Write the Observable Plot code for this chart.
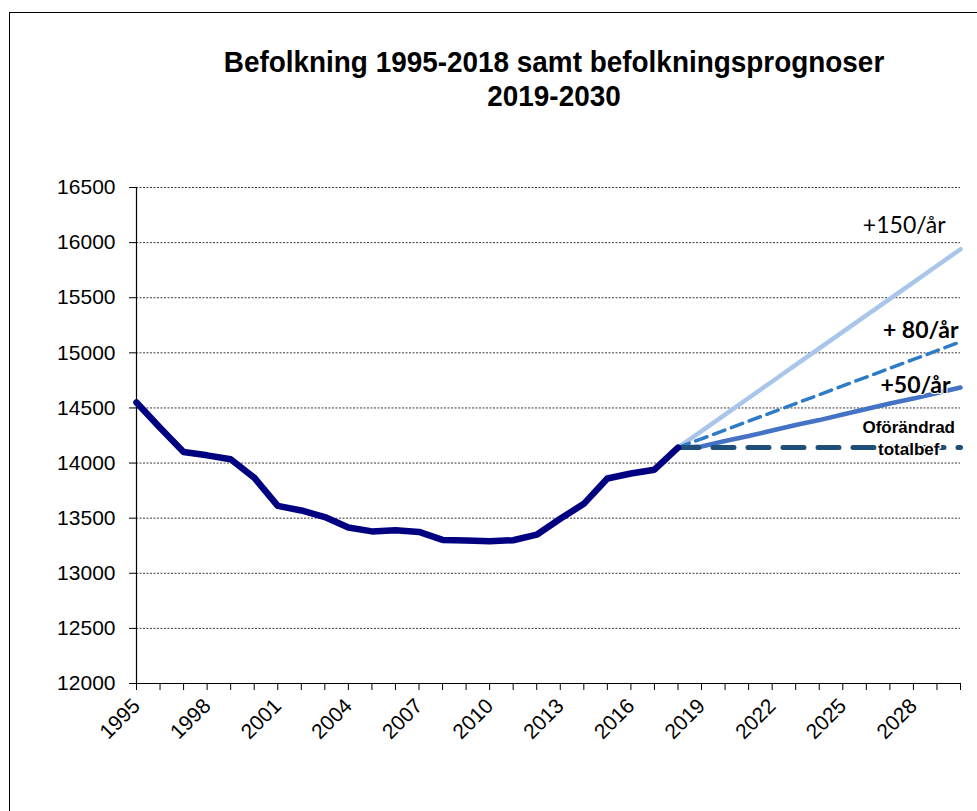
<!DOCTYPE html>
<html>
<head>
<meta charset="utf-8">
<script src="https://cdn.jsdelivr.net/npm/d3@7"></script>
<script src="https://cdn.jsdelivr.net/npm/@observablehq/plot@0.6"></script>
<style>
  body { margin: 0; background: #fff; }
  #wrap { position: relative; width: 977px; height: 811px; overflow: hidden; background: #fff; }
  #frame { position: absolute; left: 9px; top: 12px; width: 1000px; height: 900px; border: 1.5px solid #000; box-sizing: border-box; }
  #title { position: relative; height: 140px; }
  #title div { position: absolute; left: 554px; transform: translateX(-50%) scaleX(0.93); white-space: nowrap;
    font-family: "Liberation Sans Narrow", "Arial Narrow", "Liberation Sans", Arial, sans-serif;
    font-weight: bold; font-size: 30px; color: #000; text-align: center; line-height: 34px; top: 45px; }
  #chart { position: relative; }
</style>
</head>
<body>
<div id="wrap">
  <div id="frame"></div>
  <div id="title"><div>Befolkning 1995-2018 samt befolkningsprognoser<br>2019-2030</div></div>
  <div id="chart"></div>
</div>
<script>
// Historical population 1995-2018
const histYears = [1995, 1996, 1997, 1998, 1999, 2000, 2001, 2002, 2003, 2004, 2005, 2006,
                   2007, 2008, 2009, 2010, 2011, 2012, 2013, 2014, 2015, 2016, 2017, 2018];
const population = [14550, 14320, 14100, 14070, 14035, 13868, 13612, 13570, 13510, 13415, 13380, 13390,
                    13375, 13303, 13298, 13290, 13300, 13350, 13495, 13630, 13860, 13905, 13940, 14140];

// Forecast 2018-2030
const progYears = [2018, 2019, 2020, 2021, 2022, 2023, 2024, 2025, 2026, 2027, 2028, 2029, 2030];
const prog150 = [14140, 14290, 14440, 14590, 14740, 14890, 15040, 15190, 15340, 15490, 15640, 15790, 15940];
const prog80  = [14140, 14220, 14300, 14380, 14460, 14540, 14620, 14700, 14780, 14860, 14940, 15020, 15100];
const prog50  = [14140, 14150, 14200, 14245, 14295, 14345, 14390, 14440, 14490, 14540, 14585, 14635, 14685];
const progFlat = [14140, 14140, 14140, 14140, 14140, 14140, 14140, 14140, 14140, 14140, 14140, 14140, 14140];

// Axis ticks
const yTicks = [12000, 12500, 13000, 13500, 14000, 14500, 15000, 15500, 16000, 16500];
const xTickYears = [1995, 1996, 1997, 1998, 1999, 2000, 2001, 2002, 2003, 2004, 2005, 2006, 2007, 2008,
                    2009, 2010, 2011, 2012, 2013, 2014, 2015, 2016, 2017, 2018, 2019, 2020, 2021, 2022,
                    2023, 2024, 2025, 2026, 2027, 2028, 2029, 2030];
const xLabelYears = [1995, 1998, 2001, 2004, 2007, 2010, 2013, 2016, 2019, 2022, 2025, 2028];

// Series labels
const seriesLabels = ["+150/år", "+ 80/år", "+50/år", "Oförändrad\ntotalbef"];

const hist = histYears.map((y, i) => ({year: y, value: population[i]}));
const mk = arr => progYears.map((y, i) => ({year: y, value: arr[i]}));

const font = '"Liberation Sans", Arial, sans-serif';

const chart = Plot.plot({
  width: 977,
  height: 671,
  marginTop: 47,
  marginBottom: 128,
  marginLeft: 136,
  marginRight: 17,
  style: {fontFamily: font, fontSize: "21px", color: "#000", background: "transparent", overflow: "visible"},
  x: {domain: [1995, 2030], label: null},
  y: {domain: [12000, 16500], label: null},
  marks: [
    Plot.gridY(yTicks.slice(1), {stroke: "#3a3a3a", strokeOpacity: 1, strokeWidth: 1, strokeDasharray: "2,1.5"}),
    Plot.axisY({ticks: yTicks, tickSize: 7, tickPadding: 14, tickFormat: d => String(d), fontSize: 21, stroke: "#000", label: null}),
    Plot.axisX({ticks: xTickYears, tickSize: 7, tickPadding: 12, tickRotate: -45,
                tickFormat: d => xLabelYears.includes(d) ? String(d) : "", fontSize: 21, stroke: "#000", label: null}),
    Plot.ruleX([1995], {stroke: "#000", strokeWidth: 1.2}),
    Plot.ruleY([12000], {stroke: "#000", strokeWidth: 1.2}),
    Plot.line(mk(prog150), {x: "year", y: "value", stroke: "#A9C6EA", strokeWidth: 4.5}),
    Plot.line(mk(prog80), {x: "year", y: "value", stroke: "#2E7BC6", strokeWidth: 3.5, strokeDasharray: "12,7"}),
    Plot.line(mk(prog50), {x: "year", y: "value", stroke: "#4472C4", strokeWidth: 4.5}),
    Plot.line(mk(progFlat), {x: "year", y: "value", stroke: "#1F4E79", strokeWidth: 5, strokeDasharray: "21,14", strokeLinecap: "round"}),
    Plot.line(hist, {x: "year", y: "value", stroke: "#000080", strokeWidth: 6.5, strokeLinejoin: "round"}),
    Plot.text([seriesLabels[0]], {x: 2030, y: 16150, text: d => d, textAnchor: "end", dx: -15,
      fontFamily: "Lato, sans-serif", fontSize: 23, fill: "#000"}),
    Plot.text([seriesLabels[1]], {x: 2030, y: 15200, text: d => d, textAnchor: "end", dx: -2,
      fontFamily: "Lato, sans-serif", fontSize: 23, fontWeight: "bold", fill: "#000"}),
    Plot.text([seriesLabels[2]], {x: 2030, y: 14700, text: d => d, textAnchor: "end", dx: -10,
      fontFamily: "Lato, sans-serif", fontSize: 23, fontWeight: "bold", fill: "#000", stroke: "#fff", strokeWidth: 2, paintOrder: "stroke"}),
    Plot.text([seriesLabels[3]], {x: 2027.8, y: 14235, text: d => d, textAnchor: "middle", lineHeight: 1.25,
      fontFamily: font, fontSize: 17, fontWeight: "bold", fill: "#000", stroke: "#fff", strokeWidth: 3, paintOrder: "stroke"})
  ]
});
document.getElementById("chart").appendChild(chart);
</script>
</body>
</html>
